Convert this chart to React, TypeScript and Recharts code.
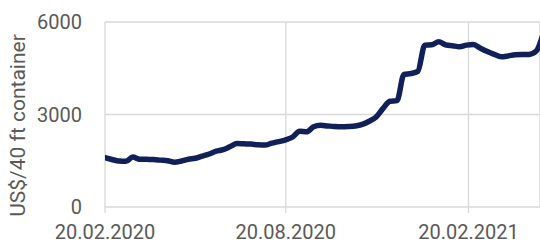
import React from "react";
import { LineChart, Line, XAxis, YAxis, CartesianGrid } from "recharts";

// weekly index values, first week 20.02.2020
const weeklyRates = [
  1600, 1540, 1490, 1480, 1620, 1550, 1545, 1540, 1520, 1500,
  1450, 1490, 1550, 1580, 1650, 1720, 1810, 1860, 1960, 2060,
  2050, 2040, 2020, 2010, 2070, 2120, 2180, 2270, 2460, 2440,
  2600, 2650, 2630, 2610, 2600, 2610, 2630, 2680, 2780, 2920,
  3200, 3430, 3450, 4300, 4330, 4400, 5250, 5260, 5360, 5260,
  5230, 5200, 5250, 5270, 5150, 5040, 4950, 4870, 4900, 4940,
  4950, 4950, 5050, 5600,
];

const tickDays = [0, 182, 366];
const tickLabels = ["20.02.2020", "20.08.2020", "20.02.2021"];
const yTicks = [0, 3000, 6000];
const lastDay = 438;

const chartData = weeklyRates.map((value, i) => ({ day: i * 7, value }));

const FONT = "Roboto, sans-serif";
const GREY = "#595959";

const YLabel = ({ viewBox }: any) => {
  const x = viewBox.x + 18;
  const y = viewBox.y + viewBox.height / 2 + 11;
  return (
    <text
      x={x}
      y={y}
      transform={`rotate(-90, ${x}, ${y})`}
      textAnchor="middle"
      dominantBaseline="central"
      fill={GREY}
      fontSize={21}
      fontFamily={FONT}
    >
      US$/40 ft container
    </text>
  );
};

const App: React.FC = () => {
  return (
    <div style={{ position: "absolute", left: 0, top: 0 }}>
      <LineChart
        width={540}
        height={245}
        data={chartData}
        margin={{ top: 22, right: 0, bottom: 0, left: 0 }}
      >
        <CartesianGrid stroke="#d9d9d9" strokeWidth={1.3} />
        <XAxis
          dataKey="day"
          type="number"
          domain={[0, lastDay]}
          allowDataOverflow
          ticks={tickDays}
          tickFormatter={(d: number) => tickLabels[tickDays.indexOf(d)]}
          axisLine={false}
          tickLine={{ stroke: "#d9d9d9", strokeWidth: 1.3 }}
          tickSize={6}
          tickMargin={12}
          height={38}
          tick={{ fill: GREY, fontSize: 20, fontFamily: FONT }}
        />
        <YAxis
          type="number"
          domain={[0, 6000]}
          ticks={yTicks}
          axisLine={false}
          tickLine={false}
          tickSize={0}
          tickMargin={23}
          width={105}
          tick={{ fill: GREY, fontSize: 20, fontFamily: FONT }}
          label={<YLabel />}
        />
        <Line
          type="monotone"
          dataKey="value"
          stroke="#12205a"
          strokeWidth={5.5}
          dot={false}
          isAnimationActive={false}
          strokeLinejoin="round"
          strokeLinecap="round"
        />
      </LineChart>
    </div>
  );
};

export default App;
